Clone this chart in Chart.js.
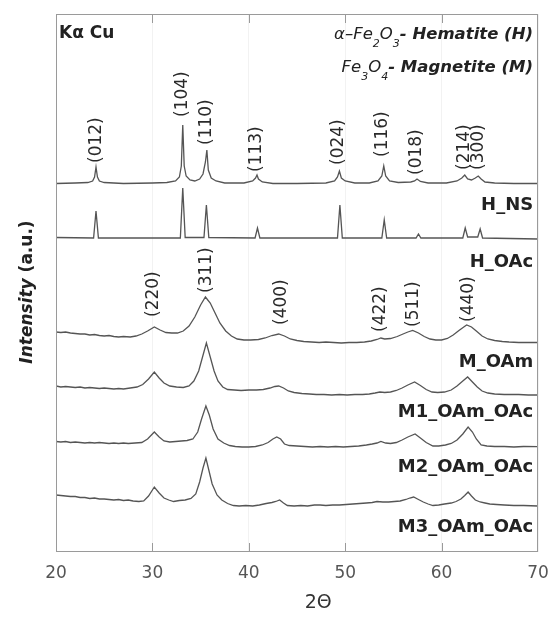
<!DOCTYPE html>
<html>
<head>
<meta charset="utf-8">
<script src="https://cdn.jsdelivr.net/npm/chart.js@4.4.1/dist/chart.umd.min.js"></script>
<style>
  html, body { margin: 0; padding: 0; background: #fff; }
</style>
</head>
<body>
<canvas id="xrd" width="552" height="617"></canvas>
<script>
// 2-theta / relative intensity (a.u.) pairs, one list per sample
const hNs = [[20,0.5],[22,1],[23.3,1.5],[23.8,3],[24.0,7],[24.15,17],[24.3,7],[24.5,3],[25,1.5],[27,0.5],[30,1],[31.5,1.5],[32.4,3],[32.8,7],[33.0,18],[33.15,59],[33.3,18],[33.5,8],[33.9,4],[34.4,3],[34.9,5],[35.25,10],[35.5,22],[35.65,34],[35.8,14],[36.1,6],[36.6,3],[37.5,1],[39.5,1],[40.4,3],[40.7,6],[40.85,9],[41.0,5],[41.4,2],[42.5,0.5],[45,0.5],[48,1],[48.9,3],[49.2,7],[49.4,13],[49.6,6],[50,3],[51,1],[52.5,1],[53.4,3],[53.8,8],[54.0,18],[54.2,8],[54.6,3],[55.5,1.5],[56.8,2],[57.2,3],[57.45,5],[57.8,2.5],[58.6,1],[60.5,1],[61.6,3],[62.1,6],[62.4,9],[62.7,5],[63.1,4],[63.5,6],[63.8,8],[64.1,5],[64.5,2],[65.5,1],[67.5,0.5],[70,0.5]];
const hOAc = [[20,0.5],[23.9,0],[24.15,27],[24.4,0],[28,0],[32.9,0],[33.15,50],[33.4,0.5],[35.35,0.5],[35.6,33],[35.85,0.5],[40.65,0],[40.9,10],[41.15,0],[45,0],[49.2,0],[49.45,33],[49.7,0],[53.8,0],[54.05,18],[54.3,0],[57.35,0],[57.6,4],[57.85,0],[62.2,0],[62.45,10],[62.7,1],[63.75,1],[64.0,9],[64.25,0],[70,-1]];
const mOAm = [[20,11],[20.5,10.5],[21,11],[21.5,10],[22,9.5],[22.5,9],[23,9],[23.5,8],[24,8.5],[24.5,7.5],[25,7],[25.5,7.5],[26,6.5],[26.5,6],[27,6.5],[27.7,6],[28.3,7],[28.9,9],[29.5,12],[30.2,16],[30.8,13],[31.4,10.5],[32,10],[32.6,10],[33.2,12],[33.8,17],[34.4,26],[35,38],[35.5,46],[36,40],[36.5,30],[37,20],[37.6,12],[38.2,7],[38.8,4],[39.5,3],[40.2,3],[41,3.5],[41.7,5],[42.4,7.5],[43.1,9],[43.7,7],[44.3,4],[45,2.5],[45.7,1.5],[46.5,1],[47.3,0.5],[48,1],[48.8,0.5],[49.6,0],[50.4,0.5],[51.2,0.5],[52,1],[52.7,2],[53.3,3.5],[53.7,5],[54.1,4],[54.7,4.5],[55.4,6.5],[56,9],[56.5,11],[57,12.5],[57.6,10],[58.2,6.5],[58.8,4],[59.4,3],[60,3],[60.6,4.5],[61.2,8],[61.8,12.5],[62.3,16],[62.6,18],[63.1,16],[63.6,12],[64.2,7],[64.8,4],[65.5,2.5],[66.3,1.5],[67,1],[68,0.5],[69,0.5],[70,0.5]];
const m1OAmOAc = [[20,9],[20.5,8],[21,8.5],[21.5,8],[22,7.5],[22.5,8],[23,7],[23.5,7.5],[24,7],[24.5,6.5],[25,7],[25.5,6.5],[26,6],[26.5,6.5],[27,6],[27.7,7],[28.4,8],[29,10.5],[29.6,16],[30.2,23],[30.7,17],[31.2,12],[31.8,9],[32.5,8],[33.2,7.5],[33.8,9],[34.3,14],[34.8,24],[35.2,38],[35.6,52],[36,38],[36.4,24],[36.8,14],[37.3,8],[37.8,5.5],[38.5,5],[39.2,4.5],[40,5],[40.8,5],[41.5,5.5],[42.2,7],[42.7,8.5],[43.1,9],[43.6,7],[44.1,4],[44.7,2.5],[45.5,1.5],[46.3,1],[47,0.5],[47.8,0.5],[48.6,0],[49.4,0.5],[50.2,0],[51,0.5],[51.8,0.5],[52.5,1],[53.1,2],[53.6,3],[54.1,2.5],[54.7,3],[55.3,4.5],[55.9,7],[56.5,10],[57.2,13],[57.8,9.5],[58.4,5.5],[59,3],[59.6,2.5],[60.3,3],[61,5],[61.6,9],[62.2,14],[62.7,18],[63.2,13],[63.7,8],[64.2,4],[64.8,2],[65.5,1],[66.5,0.5],[68,0.5],[69,0],[70,0]];
const m2OAmOAc = [[20,5.5],[20.5,5],[21,5.5],[21.5,4.5],[22,5],[22.5,4.5],[23,4],[23.5,4.5],[24,4],[24.5,4.5],[25,4],[25.5,3.5],[26,4],[26.5,3.5],[27,4],[27.5,3.5],[28.2,4],[28.9,4.5],[29.5,8],[30.2,15],[30.7,10],[31.2,6],[31.8,5],[32.4,5.5],[33,6],[33.6,6.5],[34.2,8],[34.7,15],[35.1,28],[35.55,41],[35.9,32],[36.3,18],[36.8,8],[37.4,4],[38,1.5],[38.6,0.5],[39.3,0],[40,0],[40.7,0.5],[41.4,2],[42,4.5],[42.5,8],[42.9,10],[43.3,8],[43.7,3],[44.2,1.5],[45,1],[45.8,0.5],[46.6,0],[47.4,0.5],[48.2,0],[49,0.5],[49.8,0],[50.6,0.5],[51.4,1],[52.2,2],[52.8,3],[53.3,4],[53.7,5.5],[54.2,4],[54.7,3.5],[55.3,4.5],[55.9,7],[56.5,10],[57.25,13],[57.8,9],[58.4,4.5],[59.1,1],[59.7,1],[60.4,2],[61,3.5],[61.6,7],[62.2,13],[62.75,20],[63.2,15],[63.6,8],[64.1,2],[64.7,1],[65.5,0.5],[66.5,0.5],[67.5,0],[68.5,0.5],[70,0.3]];
const m3OAmOAc = [[20,11],[20.5,10.5],[21,10],[21.5,9.5],[22,9.5],[22.5,8.5],[23,8.5],[23.5,7.5],[24,8],[24.5,7],[25,7],[25.5,6.5],[26,6],[26.5,6.5],[27,5.5],[27.5,6],[28,5],[28.6,4.5],[29.1,5],[29.6,10],[30.2,19],[30.7,13],[31.2,8],[31.7,6],[32.2,4.5],[32.8,5.5],[33.4,6],[34,7.5],[34.5,12],[34.9,24],[35.25,38],[35.55,48],[35.85,36],[36.2,22],[36.7,11],[37.2,6],[37.8,2.5],[38.4,0.5],[39,0],[39.7,0.5],[40.4,0],[41.1,1],[41.8,2.5],[42.4,3.5],[42.8,4.5],[43.2,6],[43.6,3],[44,0.5],[44.7,0],[45.4,0.5],[46.1,0],[46.8,1],[47.4,1],[48,0.5],[48.7,1],[49.4,1],[50.1,1.5],[50.8,2],[51.5,2.5],[52.2,3],[52.8,3.5],[53.3,4.5],[53.9,4],[54.5,4],[55.1,4.5],[55.7,5],[56.3,6.5],[56.7,8],[57.1,9],[57.6,6.5],[58.1,4],[58.6,2],[59.1,0.5],[59.7,1],[60.3,2],[61,3],[61.5,4.5],[62,7],[62.4,10.5],[62.75,14],[63.1,10],[63.5,6],[64,4],[64.5,3],[65,2],[65.7,1.5],[66.5,1],[67.5,0.5],[68.5,0.5],[70,0]];

const samplePatterns = [hNs, hOAc, mOAm, m1OAmOAc, m2OAmOAc, m3OAmOAc];
const sampleNames = ['H_NS', 'H_OAc', 'M_OAm', 'M1_OAm_OAc', 'M2_OAm_OAc', 'M3_OAm_OAc'];
const stackOffsets = [368, 314, 209, 157, 105, 46];   // vertical shift of each pattern
const sampleLabelLevel = [342, 285, 185, 135, 80, 20];

// reflection indices
const hematiteHkl = ['(012)', '(104)', '(110)', '(113)', '(024)', '(116)', '(018)', '(214)', '(300)'];
const hematiteHklAt = [24.25, 33.1, 35.65, 40.85, 49.35, 53.9, 57.45, 62.4, 63.8];
const hematiteHklLevel = [389, 435, 407, 380, 387, 395, 377, 382, 382];
const magnetiteHkl = ['(220)', '(311)', '(400)', '(422)', '(511)', '(440)'];
const magnetiteHklAt = [30.15, 35.65, 43.4, 53.7, 57.1, 62.8];
const magnetiteHklLevel = [235, 259, 227, 220, 225, 230];

const xTicks = [20, 30, 40, 50, 60, 70];
const xTitleAt = 47.2;

const FONT = 'DejaVu Sans';

function richLine(ctx, parts, right, baseY) {
    let w = 0;
    parts.forEach(p => { ctx.font = p.font; w += ctx.measureText(p.t).width; });
    let cx = right - w;
    parts.forEach(p => {
        ctx.font = p.font;
        ctx.fillText(p.t, cx, baseY + (p.dy || 0));
        cx += ctx.measureText(p.t).width;
    });
}

const decor = {
    id: 'decor',
    afterDraw(chart) {
        const {ctx, chartArea: a, scales: {x, y}} = chart;
        ctx.save();

        // frame + inward ticks
        ctx.strokeStyle = '#9a9a9a';
        ctx.lineWidth = 1;
        ctx.strokeRect(a.left + 0.5, a.top + 0.5, a.width - 1, a.height - 1);
        ctx.beginPath();
        xTicks.forEach(v => {
            if (v <= 20 || v >= 70) return;
            const px = Math.round(x.getPixelForValue(v)) + 0.5;
            ctx.moveTo(px, a.bottom); ctx.lineTo(px, a.bottom - 9);
            ctx.moveTo(px, a.top); ctx.lineTo(px, a.top + 9);
        });
        ctx.stroke();

        ctx.fillStyle = '#222';
        ctx.textBaseline = 'alphabetic';

        // x axis title
        ctx.fillStyle = '#333';
        ctx.textAlign = 'center';
        ctx.textBaseline = 'middle';
        ctx.font = '19px ' + FONT;
        ctx.fillText('2Θ', x.getPixelForValue(xTitleAt), 603);
        ctx.textBaseline = 'alphabetic';
        ctx.fillStyle = '#222';

        // sample names
        ctx.font = 'bold 18px ' + FONT;
        ctx.textAlign = 'right';
        sampleNames.forEach((n, i) => {
            ctx.fillText(n, x.getPixelForValue(69.5), y.getPixelForValue(sampleLabelLevel[i]));
        });

        // hkl labels, rotated
        ctx.font = '17px ' + FONT;
        ctx.fillStyle = '#2a2a2a';
        const hkl = (labels, at, lvl) => labels.forEach((t, i) => {
            ctx.save();
            ctx.translate(x.getPixelForValue(at[i]), y.getPixelForValue(lvl[i]));
            ctx.rotate(-Math.PI / 2);
            ctx.textAlign = 'left';
            ctx.textBaseline = 'middle';
            ctx.fillText(t, 0, 0);
            ctx.restore();
        });
        hkl(hematiteHkl, hematiteHklAt, hematiteHklLevel);
        hkl(magnetiteHkl, magnetiteHklAt, magnetiteHklLevel);

        // radiation
        ctx.fillStyle = '#222';
        ctx.textAlign = 'left';
        ctx.font = 'bold 17px ' + FONT;
        ctx.fillText('Kα Cu', a.left + 3, a.top + 24);

        // phase legend
        const it = 'italic 16.5px ' + FONT, sub = 'italic 11px ' + FONT, bi = 'italic bold 16.5px ' + FONT;
        richLine(ctx, [
            {t: 'α–Fe', font: it}, {t: '2', font: sub, dy: 8}, {t: 'O', font: it},
            {t: '3', font: sub, dy: 8}, {t: '- Hematite (H)', font: bi}
        ], a.right - 5, a.top + 25);
        richLine(ctx, [
            {t: 'Fe', font: it}, {t: '3', font: sub, dy: 8}, {t: 'O', font: it},
            {t: '4', font: sub, dy: 8}, {t: '- Magnetite (M)', font: bi}
        ], a.right - 5, a.top + 58);

        // y axis title
        ctx.save();
        ctx.translate(32, (a.top + a.bottom) / 2 + 9);
        ctx.rotate(-Math.PI / 2);
        const p1 = 'Intensity ', p2 = '(a.u.)';
        ctx.font = 'italic bold 17px ' + FONT;
        const w1 = ctx.measureText(p1).width;
        ctx.font = 'bold 17px ' + FONT;
        const w2 = ctx.measureText(p2).width;
        ctx.font = 'italic bold 17px ' + FONT;
        ctx.fillText(p1, -(w1 + w2) / 2, 0);
        ctx.font = 'bold 17px ' + FONT;
        ctx.fillText(p2, -(w1 + w2) / 2 + w1, 0);
        ctx.restore();

        ctx.restore();
    }
};

new Chart(document.getElementById('xrd'), {
    type: 'line',
    data: {
        datasets: samplePatterns.map((pat, i) => ({
            label: sampleNames[i],
            data: pat.map(([t, v]) => ({x: t, y: v + stackOffsets[i]})),
            borderColor: '#555',
            borderWidth: 1.3,
            pointRadius: 0,
            tension: 0,
            fill: false
        }))
    },
    options: {
        responsive: false,
        animation: false,
        devicePixelRatio: 1,
        layout: {padding: {left: 56, right: 14, top: 14, bottom: 0}},
        plugins: {legend: {display: false}, tooltip: {enabled: false}},
        scales: {
            x: {
                type: 'linear', min: 20, max: 70,
                afterBuildTicks: s => { s.ticks = xTicks.map(v => ({value: v})); },
                ticks: {font: {family: FONT, size: 17}, color: '#555', padding: 11, maxRotation: 0},
                grid: {drawTicks: false, color: 'rgba(0,0,0,0.05)'},
                border: {display: false},
                title: {display: false},
                afterFit: s => { s.height = 65; s.paddingLeft = 0; s.paddingRight = 0; }
            },
            y: {display: false, min: 0, max: 538}
        }
    },
    plugins: [decor]
});
</script>
</body>
</html>
